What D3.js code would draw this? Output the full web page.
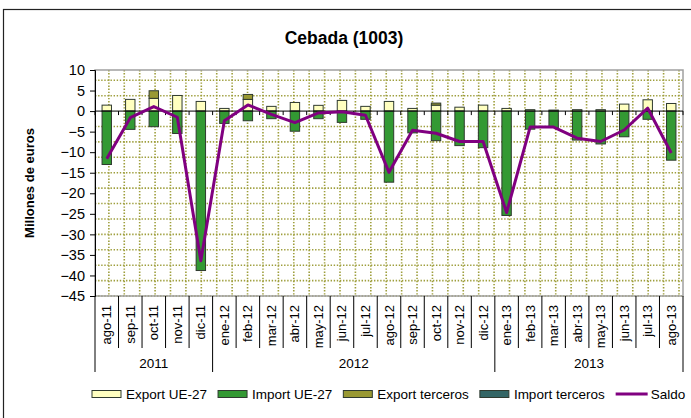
<!DOCTYPE html>
<html>
<head>
<meta charset="utf-8">
<script src="https://cdn.jsdelivr.net/npm/d3@7/dist/d3.min.js"></script>
<style>
  html, body { margin: 0; padding: 0; background: #fff; }
  svg { display: block; font-family: "Liberation Sans", Arial, sans-serif; }
</style>
</head>
<body>
<svg id="chart" width="691" height="418"></svg>
<script>
// Monthly trade in barley (millions of euros), Aug 2011 – Aug 2013
const months = ["ago-11","sep-11","oct-11","nov-11","dic-11",
  "ene-12","feb-12","mar-12","abr-12","may-12","jun-12","jul-12","ago-12","sep-12","oct-12","nov-12","dic-12",
  "ene-13","feb-13","mar-13","abr-13","may-13","jun-13","jul-13","ago-13"];
const years = [
  { label: "2011", from: 0, to: 5 },
  { label: "2012", from: 5, to: 17 },
  { label: "2013", from: 17, to: 25 }
];
const exportUE = [1.45, 2.85, 3.1, 3.8, 2.35, 0.65, 2.85, 1.15, 2.1, 1.4, 2.6, 1.15, 2.35,
  0.65, 1.45, 0.95, 1.45, 0.65, 0.35, 0.25, 0.35, 0.35, 1.7, 2.75, 1.85];
const exportTerceros = [0, 0, 1.85, 0, 0, 0, 1.2, 0, 0, 0, 0, 0, 0,
  0, 0.5, 0, 0, 0, 0, 0, 0, 0, 0, 0, 0];
const importUE = [-13.0, -4.45, -3.8, -5.45, -38.8, -3.0, -2.35, -1.85, -4.9, -1.85, -2.75, -2.0, -17.3,
  -5.3, -7.2, -8.4, -8.9, -25.4, -4.4, -4.0, -7.05, -8.0, -6.25, -2.0, -11.95];
const importTerceros = [0, 0, 0, 0, 0, 0, 0, 0, 0, 0, 0, 0, 0,
  0, 0, 0, 0, 0, 0, 0, 0, 0, 0, 0, 0];
const saldo = [-11.6, -1.6, 1.1, -1.5, -36.4, -2.35, 1.5, -0.8, -2.8, -0.45, -0.15, -1.0, -14.9,
  -4.65, -5.4, -7.4, -7.4, -24.7, -3.9, -3.9, -6.6, -7.4, -4.6, 0.7, -10.2];
const yTicks = [10, 5, 0, -5, -10, -15, -20, -25, -30, -35, -40, -45];

const series = [
  { key: "Export UE-27", values: exportUE, color: "#ffffc0" },
  { key: "Import UE-27", values: importUE, color: "#339933" },
  { key: "Export terceros", values: exportTerceros, color: "#999933" },
  { key: "Import terceros", values: importTerceros, color: "#336666" }
];

const svg = d3.select("#chart");
const plot = { left: 95, right: 683, top: 70, bottom: 296 };

const x = d3.scaleBand().domain(months).range([plot.left, plot.right]).padding(0);
const y = d3.scaleLinear().domain([-45, 10]).range([plot.bottom, plot.top]);
const bw = x.bandwidth() * 0.4;

// outer frame
svg.append("rect").attr("x", 3.5).attr("y", 9.5).attr("width", 700).attr("height", 420)
  .attr("fill", "none").attr("stroke", "#222").attr("stroke-width", 1.2);

// title
svg.append("text").attr("x", 344).attr("y", 44).attr("text-anchor", "middle")
  .attr("font-size", 17.5).attr("font-weight", "bold").text("Cebada (1003)");

// dotted grid (square cells)
const gridStep = y(0) - y(3.75);
const grid = svg.append("g").attr("stroke", "#9e9e3c").attr("stroke-width", 1.6)
  .attr("stroke-dasharray", "1.4,1.7");
d3.range(-12, 3).filter(k => k !== 0).forEach(k => {
  grid.append("line").attr("x1", plot.left).attr("x2", plot.right)
    .attr("y1", y(k * 3.75)).attr("y2", y(k * 3.75));
});
for (let gx = plot.right - 4; gx > plot.left + 2; gx -= gridStep) {
  grid.append("line").attr("x1", gx).attr("x2", gx).attr("y1", plot.top).attr("y2", plot.bottom);
}

// plot area border
svg.append("rect").attr("x", plot.left).attr("y", plot.top)
  .attr("width", plot.right - plot.left).attr("height", plot.bottom - plot.top)
  .attr("fill", "none").attr("stroke", "#a0a0a0").attr("stroke-width", 1.5);

// stacked bars: positives upward, negatives downward
const posTop = months.map(() => 0), negBot = months.map(() => 0);
const stackOrder = [0, 2, 1, 3];
stackOrder.forEach(si => {
  const s = series[si];
  const segs = s.values.map((v, i) => {
    let y0, y1;
    if (v >= 0) { y0 = posTop[i]; y1 = y0 + v; posTop[i] = y1; }
    else { y0 = negBot[i]; y1 = y0 + v; negBot[i] = y1; }
    return { i, y0, y1, v };
  }).filter(d => d.v !== 0);
  svg.append("g").selectAll("rect").data(segs).join("rect")
    .attr("x", d => x(months[d.i]) + (x.bandwidth() - bw) / 2)
    .attr("width", bw)
    .attr("y", d => y(Math.max(d.y0, d.y1)))
    .attr("height", d => Math.abs(y(d.y0) - y(d.y1)))
    .attr("fill", s.color).attr("stroke", "#2f3a2f").attr("stroke-width", 1);
});

// zero line with category ticks
svg.append("line").attr("x1", plot.left).attr("x2", plot.right)
  .attr("y1", y(0)).attr("y2", y(0)).attr("stroke", "#000").attr("stroke-width", 1);
svg.append("g").selectAll("line").data(d3.range(months.length + 1)).join("line")
  .attr("x1", i => plot.left + i * x.step()).attr("x2", i => plot.left + i * x.step())
  .attr("y1", y(0)).attr("y2", y(0) + 4).attr("stroke", "#000");

// balance line
svg.append("path").datum(saldo)
  .attr("fill", "none").attr("stroke", "#800080").attr("stroke-width", 3)
  .attr("stroke-linejoin", "round")
  .attr("d", d3.line().x((d, i) => x(months[i]) + x.bandwidth() / 2).y(d => y(d)));

// y axis
const yAxis = svg.append("g").attr("transform", `translate(${plot.left},0)`)
  .call(d3.axisLeft(y).tickValues(yTicks).tickSize(5).tickPadding(5).tickFormat(d3.format("d")));
yAxis.select(".domain").attr("stroke", "#000");
yAxis.selectAll("text").attr("font-size", 14.5).attr("fill", "#000")
  .style("font-family", "'Liberation Sans', Arial, sans-serif");

svg.append("text").attr("transform", "translate(34,183) rotate(-90)")
  .attr("text-anchor", "middle").attr("font-size", 13).attr("font-weight", "bold")
  .text("Millones de euros");

// category axis: month labels and separators
const catG = svg.append("g");
catG.selectAll("line.m").data(d3.range(months.length + 1)).join("line")
  .attr("x1", i => plot.left + i * x.step()).attr("x2", i => plot.left + i * x.step())
  .attr("y1", plot.bottom).attr("y2", 348).attr("stroke", "#000");
catG.selectAll("text").data(months).join("text")
  .attr("transform", d => `translate(${x(d) + x.bandwidth() / 2 + 4.5},305) rotate(-90)`)
  .attr("text-anchor", "end").attr("font-size", 13).text(d => d);

// year groups
const yearBounds = [0, ...years.map(yr => yr.to)];
catG.selectAll("line.y").data(yearBounds).join("line")
  .attr("x1", i => plot.left + i * x.step()).attr("x2", i => plot.left + i * x.step())
  .attr("y1", 348).attr("y2", 372).attr("stroke", "#000");
catG.selectAll("text.yr").data(years).join("text").attr("class", "yr")
  .attr("x", d => plot.left + (d.from + d.to) / 2 * x.step())
  .attr("y", 368).attr("text-anchor", "middle").attr("font-size", 13.5).text(d => d.label);

// legend
const legend = svg.append("g");
let lx = 92;
const items = [...series.map(s => ({ key: s.key, color: s.color, type: "rect" })),
  { key: "Saldo", color: "#800080", type: "line" }];
items.forEach(it => {
  if (it.type === "rect") {
    legend.append("rect").attr("x", lx).attr("y", 390.5).attr("width", 29).attr("height", 7)
      .attr("fill", it.color).attr("stroke", "#2f3a2f").attr("stroke-width", 1);
    lx += 34;
  } else {
    legend.append("line").attr("x1", lx).attr("x2", lx + 32).attr("y1", 394).attr("y2", 394)
      .attr("stroke", it.color).attr("stroke-width", 3);
    lx += 35;
  }
  const t = legend.append("text").attr("x", lx).attr("y", 398.5).attr("font-size", 13.5).text(it.key);
  lx += t.node().getComputedTextLength() + 11;
});
</script>
</body>
</html>
